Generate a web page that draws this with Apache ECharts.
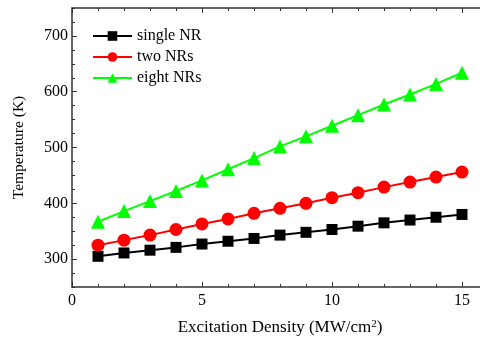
<!DOCTYPE html>
<html>
<head>
<meta charset="utf-8">
<script src="https://cdn.jsdelivr.net/npm/echarts@6/dist/echarts.min.js"></script>
<style>
  html, body { margin: 0; padding: 0; background: #fff; overflow: hidden; }
  /* plot frame runs past the right edge of the picture, as in the source */
  #chart { width: 488px; height: 343px; }
</style>
</head>
<body>
<div id="chart"></div>
<script>
const density = [1, 2, 3, 4, 5, 6, 7, 8, 9, 10, 11, 12, 13, 14, 15];
const singleNR = [305, 311, 316, 321, 327, 332, 337, 343, 348, 353, 359, 365, 370, 375, 380];
const twoNRs = [325, 334, 343, 353, 363, 372, 382, 391, 400, 410, 419, 429, 438, 447, 456];
const eightNRs = [367, 386, 404, 422, 441, 461, 481, 502, 520, 539, 558, 577, 595, 614, 634];
const tempTicks = [300, 400, 500, 600, 700];

const font = 'Liberation Serif';
const axisColor = '#333';

const pairs = (ys) => density.map((x, i) => [x, ys[i]]);

const chart = echarts.init(document.getElementById('chart'), null, { renderer: 'canvas' });

function line(name, ys, color, symbol, size) {
  return {
    name,
    type: 'line',
    data: pairs(ys),
    symbol,
    symbolSize: size,
    showSymbol: true,
    lineStyle: { color, width: 2 },
    itemStyle: { color },
  };
}

chart.setOption({
  animation: false,
  grid: { left: 72, right: 0, top: 8, bottom: 56 },
  legend: {
    orient: 'vertical',
    left: 87,
    top: 23,
    itemWidth: 39,
    itemHeight: 12,
    itemGap: 5,
    textStyle: { fontFamily: font, fontSize: 16, color: '#000' },
    data: ['single NR', 'two NRs', 'eight NRs'],
  },
  xAxis: [
    {
      type: 'value',
      min: 0,
      max: 16,
      interval: 5,
      name: '{a|Excitation Density (MW/cm}{s|2}{a|)}',
      nameLocation: 'middle',
      nameGap: 32,
      nameTextStyle: {
        fontFamily: font, fontSize: 17, color: '#000',
        rich: {
          a: { fontFamily: font, fontSize: 17, color: '#000' },
          s: { fontFamily: font, fontSize: 11, color: '#000', verticalAlign: 'top', padding: [0, 0, 6, 0] },
        },
      },
      axisLine: { lineStyle: { color: axisColor, width: 1.5 } },
      axisTick: { inside: true, length: 5, lineStyle: { color: axisColor } },
      minorTick: { show: true, splitNumber: 5, length: 3, lineStyle: { color: axisColor } },
      axisLabel: { fontFamily: font, fontSize: 16, color: '#000', margin: 6, showMaxLabel: false },
      splitLine: { show: false },
    },
    {
      type: 'value',
      position: 'top',
      min: 0,
      max: 16,
      interval: 5,
      axisLine: { show: true, lineStyle: { color: axisColor, width: 1.5 } },
      axisTick: { show: true, inside: true, length: 5, lineStyle: { color: axisColor } },
      minorTick: { show: true, splitNumber: 5, length: 3, lineStyle: { color: axisColor } },
      axisLabel: { show: false },
      splitLine: { show: false },
    },
  ],
  yAxis: [
    {
      type: 'value',
      min: 250,
      max: 750,
      name: 'Temperature (K)',
      nameLocation: 'middle',
      nameGap: 45,
      nameTextStyle: { fontFamily: font, fontSize: 15.5, color: '#000' },
      axisLine: { show: true, lineStyle: { color: axisColor, width: 1.5 } },
      axisTick: { show: true, inside: true, length: 5, customValues: tempTicks, lineStyle: { color: axisColor } },
      axisLabel: { fontFamily: font, fontSize: 16, color: '#000', margin: 4, customValues: tempTicks },
      splitLine: { show: false },
    },
    {
      type: 'value',
      position: 'left',
      min: 250,
      max: 750,
      interval: 25,
      axisLine: { show: false },
      axisTick: { show: true, inside: true, length: 3, lineStyle: { color: axisColor } },
      axisLabel: { show: false },
      splitLine: { show: false },
    },
  ],
  series: [
    line('single NR', singleNR, '#000000', 'rect', 11),
    line('two NRs', twoNRs, '#ff0000', 'circle', 13),
    line('eight NRs', eightNRs, '#00ff00', 'triangle', 14),
  ],
});
</script>
</body>
</html>
